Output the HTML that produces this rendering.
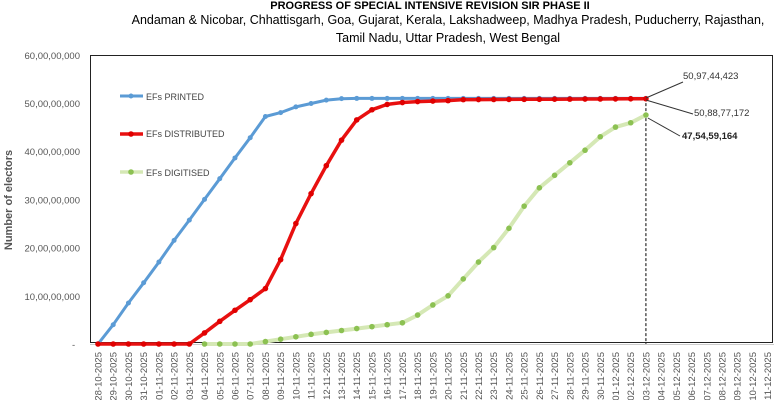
<!DOCTYPE html>
<html><head><meta charset="utf-8"><style>body{margin:0;background:#fff}svg{display:block;font-family:"Liberation Sans",sans-serif}</style></head><body>
<svg id="s" width="774" height="400" xmlns="http://www.w3.org/2000/svg"></svg>
<script>
const s=document.getElementById('s');let h='';
const X=i=>98+i*15.22, Y=v=>344-v*4.82;
h+='<text x="430" y="9" font-size="11" font-weight="bold" text-anchor="middle">PROGRESS OF SPECIAL INTENSIVE REVISION SIR PHASE II</text>';
h+='<text x="448" y="24" font-size="12.5" text-anchor="middle">Andaman &amp; Nicobar, Chhattisgarh, Goa, Gujarat, Kerala, Lakshadweep, Madhya Pradesh, Puducherry, Rajasthan,</text>';
h+='<text x="448" y="42" font-size="12.5" text-anchor="middle">Tamil Nadu, Uttar Pradesh, West Bengal</text>';
h+='<rect x="90.5" y="55.5" width="682" height="287" fill="none" stroke="#222" stroke-width="1"/>';
h+='<line x1="90" y1="344.5" x2="774" y2="344.5" stroke="#ccc" stroke-width="1"/>';
for(let k=1;k<=6;k++)h+=`<text x="80" y="${Y(k*10)+4}" font-size="9.5" fill="#555" text-anchor="end">${k*10},00,00,000</text>`;
h+=`<text x="72" y="348" font-size="9.5" fill="#555">-</text>`;
h+='<text transform="translate(12,200) rotate(-90)" font-size="11" font-weight="bold" fill="#555" text-anchor="middle">Number of electors</text>';
const d0=new Date(2025,9,28);
for(let i=0;i<45;i++){const d=new Date(d0.getTime()+i*864e5);const t=String(d.getDate()).padStart(2,'0')+'-'+String(d.getMonth()+1).padStart(2,'0')+'-2025';
h+=`<text transform="translate(${X(i)+3.5},352) rotate(-90)" font-size="9.5" fill="#555" text-anchor="end">${t}</text>`;}
const blue=[0,4,8.5,12.7,17,21.5,25.7,30,34.3,38.6,42.8,47.2,48,49.2,49.9,50.6,50.9];while(blue.length<37)blue.push(50.95);
const red=[0,0,0,0,0,0,0,2.3,4.7,7,9.2,11.5,17.5,25,31.2,37,42.3,46.5,48.6,49.7,50.1,50.3,50.4,50.5];while(red.length<37)red.push(50.7+(red.length-24)*0.015);
const gv=[0,0,0,0,0.5,1,1.5,2,2.4,2.8,3.2,3.6,4,4.4,6,8.1,10,13.5,17,20,24,28.6,32.4,35,37.6,40.2,43,45,45.9,47.5];
function ser(a,off,col,w,r,mc){let p=a.map((v,i)=>X(i+off).toFixed(1)+','+Y(v).toFixed(1)).join(' ');
let o=`<polyline points="${p}" fill="none" stroke="${col}" stroke-width="${w}" stroke-linejoin="round"/>`;
a.forEach((v,i)=>o+=`<circle cx="${X(i+off)}" cy="${Y(v)}" r="${r}" fill="${mc}"/>`);return o;}
h+=`<line x1="${X(36)}" y1="${Y(51)}" x2="${X(36)}" y2="344" stroke="#000" stroke-dasharray="3,2" stroke-width="1"/>`;
h+=ser(gv,7,'#d5e8b5',4,2.8,'#8cc152');
h+=ser(blue,0,'#5b9bd5',3,2.5,'#5b9bd5');
h+=ser(red,0,'#e81010',3.5,2.8,'#e00000');
h+='<line x1="120" y1="96" x2="143" y2="96" stroke="#5b9bd5" stroke-width="3"/><circle cx="131" cy="96" r="2.5" fill="#5b9bd5"/><text x="146" y="100" font-size="9" fill="#444">EFs PRINTED</text>';
h+='<line x1="120" y1="134" x2="143" y2="134" stroke="#e81010" stroke-width="3.5"/><circle cx="131" cy="134" r="2.8" fill="#e00000"/><text x="146" y="137" font-size="9" fill="#444">EFs DISTRIBUTED</text>';
h+='<line x1="120" y1="172" x2="143" y2="172" stroke="#d5e8b5" stroke-width="3.5"/><circle cx="131" cy="172" r="2.8" fill="#8cc152"/><text x="146" y="176" font-size="9" fill="#444">EFs DIGITISED</text>';
const ex=X(36);
h+=`<line x1="${ex}" y1="98" x2="683" y2="82" stroke="#333"/><text x="683" y="79" font-size="9.5" fill="#333">50,97,44,423</text>`;
h+=`<line x1="${ex}" y1="100" x2="693" y2="114" stroke="#333"/><text x="694" y="116" font-size="9.5" fill="#333">50,88,77,172</text>`;
h+=`<line x1="${ex+2}" y1="118" x2="680" y2="136" stroke="#333"/><text x="682" y="139" font-size="9.5" font-weight="bold" fill="#222">47,54,59,164</text>`;
s.innerHTML=h;
</script>
</body></html>
